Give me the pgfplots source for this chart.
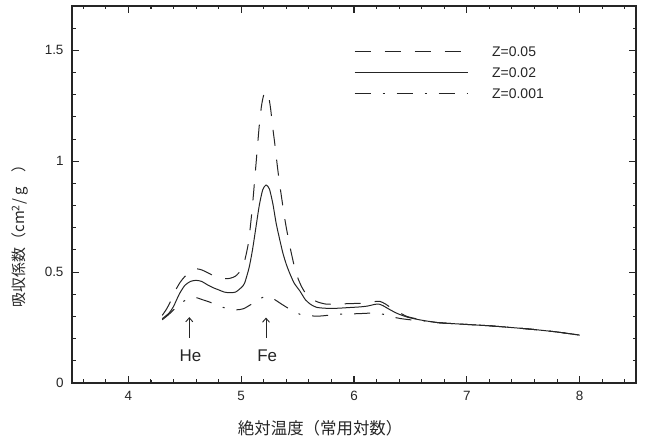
\documentclass[border=0pt]{standalone}
\usepackage{fontspec}
\setmainfont{Liberation Sans}
\newfontfamily\cjk{Noto Sans CJK JP}
\usepackage{pgfplots}
\pgfplotsset{compat=1.18}
\usepackage{pgfplotstable}
\usetikzlibrary{arrows.meta}
\definecolor{ink}{HTML}{252525}

\pgfplotstableread{
x y
4.30 0.305
4.34 0.335
4.38 0.375
4.42 0.42
4.46 0.455
4.50 0.48
4.55 0.502
4.60 0.515
4.65 0.51
4.70 0.498
4.75 0.485
4.80 0.475
4.85 0.47
4.90 0.472
4.95 0.482
5.00 0.51
5.03 0.55
5.06 0.62
5.08 0.70
5.10 0.80
5.12 0.92
5.14 1.04
5.16 1.16
5.18 1.25
5.20 1.30
5.22 1.315
5.24 1.30
5.26 1.24
5.28 1.15
5.30 1.07
5.32 0.98
5.34 0.90
5.36 0.83
5.38 0.76
5.40 0.70
5.43 0.62
5.46 0.55
5.49 0.49
5.53 0.44
5.57 0.405
5.62 0.38
5.68 0.365
5.75 0.356
5.85 0.355
5.95 0.358
6.05 0.359
6.12 0.362
6.18 0.367
6.23 0.368
6.28 0.356
6.33 0.338
6.40 0.318
6.47 0.30
6.55 0.29
6.63 0.281
6.75 0.272
6.90 0.267
7.00 0.264
7.20 0.258
7.40 0.250
7.60 0.241
7.80 0.230
8.00 0.216
}\dataA

\pgfplotstableread{
x y
4.30 0.29
4.36 0.315
4.40 0.345
4.45 0.40
4.50 0.44
4.55 0.458
4.60 0.463
4.65 0.458
4.70 0.443
4.75 0.43
4.80 0.42
4.85 0.41
4.90 0.407
4.95 0.41
5.00 0.43
5.03 0.45
5.07 0.52
5.10 0.60
5.13 0.70
5.16 0.80
5.19 0.87
5.22 0.893
5.25 0.875
5.28 0.81
5.31 0.72
5.34 0.65
5.37 0.585
5.40 0.535
5.43 0.495
5.47 0.45
5.52 0.415
5.57 0.375
5.62 0.353
5.67 0.341
5.75 0.337
5.85 0.337
5.95 0.340
6.05 0.343
6.12 0.347
6.18 0.354
6.22 0.356
6.26 0.348
6.30 0.336
6.35 0.322
6.40 0.310
6.48 0.296
6.56 0.287
6.65 0.279
6.75 0.272
6.90 0.267
7.00 0.264
7.20 0.258
7.40 0.250
7.60 0.241
7.80 0.230
8.00 0.216
}\dataB

\pgfplotstableread{
x y
4.30 0.285
4.36 0.31
4.42 0.34
4.48 0.365
4.54 0.383
4.60 0.385
4.66 0.375
4.72 0.365
4.80 0.348
4.88 0.335
4.96 0.33
5.02 0.335
5.08 0.352
5.14 0.372
5.20 0.388
5.24 0.39
5.30 0.375
5.36 0.355
5.44 0.33
5.52 0.31
5.60 0.303
5.70 0.302
5.80 0.307
5.90 0.311
6.00 0.312
6.10 0.314
6.18 0.316
6.26 0.31
6.34 0.298
6.42 0.29
6.50 0.285
6.60 0.281
6.75 0.272
6.90 0.267
7.00 0.264
7.20 0.258
7.40 0.250
7.60 0.241
7.80 0.230
8.00 0.216
}\dataC

\begin{document}
\begin{tikzpicture}
\begin{axis}[
  at={(0,0)}, anchor=south west,
  scale only axis, width=564bp, height=377bp,
  xmin=3.5, xmax=8.5, ymin=0, ymax=1.7,
  xtick={4,5,6,7,8}, ytick={0,0.5,1,1.5},
  minor x tick num=4, minor y tick num=4,
  tick align=inside,
  major tick length=6bp, minor tick length=3bp,
  axis line style={line width=1.1bp, draw=ink},
  tick style={draw=ink, line width=0.9bp},
  /pgf/number format/assume math mode=true,
  tick label style={font=\fontsize{13.5}{15}\selectfont, text=ink},
  yticklabel style={xshift=-5bp},
  xticklabel style={yshift=-5bp},
  xlabel={{\cjk 絶対温度（常用対数）}},
  xlabel style={at={(axis description cs:0.44,-0.12)}, anchor=center, font=\fontsize{16.5}{18}\selectfont, text=ink},
  ylabel={{\cjk 吸収係数（cm\textsuperscript{2}/ g\quad ）}},
  ylabel style={at={(axis description cs:-0.092,0.40)}, anchor=center, font=\fontsize{15}{17}\selectfont, text=ink},
  legend image code/.code={\draw[#1] (0bp,0bp) -- (113bp,0bp);},
  legend cell align=left,
  legend style={draw=none, fill=none, at={(axis cs:6.0,1.40)}, anchor=west,
    inner sep=0pt, column sep=24bp, row sep=11bp,
    nodes={inner sep=0pt, text height=10bp, text depth=0bp},
    font=\fontsize{14}{16}\selectfont, text=ink},
]
\addplot[ink, line width=1bp, smooth, tension=0.4, dash pattern=on 16bp off 14bp] table {\dataA};
\addlegendentry{Z=0.05}
\addplot[ink, line width=1bp, smooth, tension=0.4] table {\dataB};
\addlegendentry{Z=0.02}
\addplot[ink, line width=1bp, smooth, tension=0.4, dash pattern=on 16bp off 12bp on 2bp off 12bp] table {\dataC};
\addlegendentry{Z=0.001}
\draw[ink, line width=0.9bp, -{Straight Barb[length=4bp,width=7bp]}] (axis cs:4.54,0.205) -- (axis cs:4.54,0.297);
\draw[ink, line width=0.9bp, -{Straight Barb[length=4bp,width=7bp]}] (axis cs:5.22,0.205) -- (axis cs:5.22,0.295);
\node[font=\fontsize{17}{19}\selectfont, text=ink] at (axis cs:4.55,0.125) {He};
\node[font=\fontsize{17}{19}\selectfont, text=ink] at (axis cs:5.23,0.125) {Fe};
\end{axis}
% frame ticks (axis box is 564bp x 377bp at the origin)
\foreach \m in {0,...,24}{
  \draw[ink, line width=1bp] ({(11.28+22.56*\m)*1bp},0bp) -- ++(0bp,3.5bp);
  \draw[ink, line width=1bp] ({(11.28+22.56*\m)*1bp},377bp) -- ++(0bp,-3.5bp);
}
\foreach \m in {0,...,4}{
  \draw[ink, line width=1.1bp] ({(56.4+112.8*\m)*1bp},0bp) -- ++(0bp,7bp);
  \draw[ink, line width=1.1bp] ({(56.4+112.8*\m)*1bp},377bp) -- ++(0bp,-7bp);
}
\foreach \n in {1,...,16}{
  \draw[ink, line width=1bp] (0bp,{22.176*\n*1bp}) -- ++(3.5bp,0bp);
  \draw[ink, line width=1bp] (564bp,{22.176*\n*1bp}) -- ++(-3.5bp,0bp);
}
\foreach \n in {1,...,3}{
  \draw[ink, line width=1.1bp] (0bp,{110.88*\n*1bp}) -- ++(7bp,0bp);
  \draw[ink, line width=1.1bp] (564bp,{110.88*\n*1bp}) -- ++(-7bp,0bp);
}
\path (-72bp,-57bp) rectangle (573bp,383bp);
\end{tikzpicture}
\end{document}
